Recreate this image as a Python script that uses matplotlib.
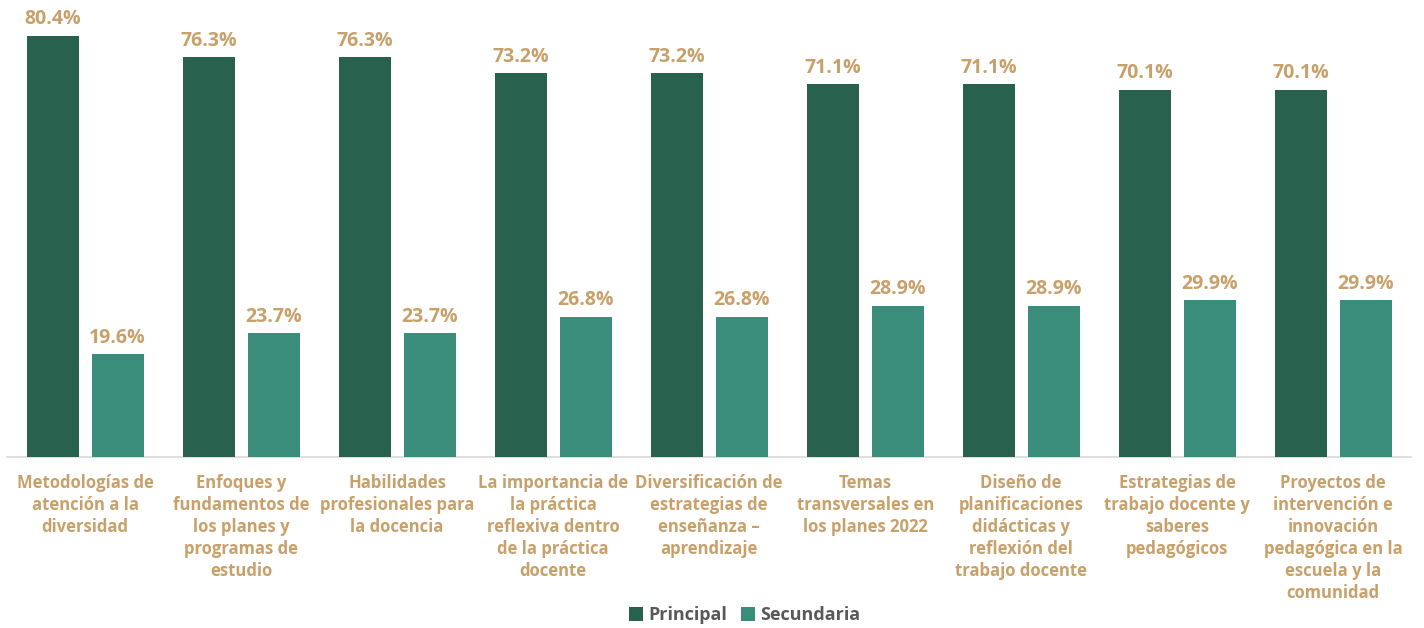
import numpy as np
import matplotlib.pyplot as plt

categorias = [
    "Metodologías de\natención a la\ndiversidad",
    "Enfoques y\nfundamentos de\nlos planes y\nprogramas de\nestudio",
    "Habilidades\nprofesionales para\nla docencia",
    "La importancia de\nla práctica\nreflexiva dentro\nde la práctica\ndocente",
    "Diversificación de\nestrategias de\nenseñanza –\naprendizaje",
    "Temas\ntransversales en\nlos planes 2022",
    "Diseño de\nplanificaciones\ndidácticas y\nreflexión del\ntrabajo docente",
    "Estrategias de\ntrabajo docente y\nsaberes\npedagógicos",
    "Proyectos de\nintervención e\ninnovación\npedagógica en la\nescuela y la\ncomunidad",
]
principal = [80.4, 76.3, 76.3, 73.2, 73.2, 71.1, 71.1, 70.1, 70.1]
secundaria = [19.6, 23.7, 23.7, 26.8, 26.8, 28.9, 28.9, 29.9, 29.9]

c_prin = "#29614F"
c_sec = "#3A8C7B"
c_txt = "#C8A06A"

plt.rcParams['font.family'] = ['Open Sans', 'DejaVu Sans']

fig = plt.figure(figsize=(14.24, 6.28), dpi=100)
ax = fig.add_axes([0.005, 0.272, 0.986, 0.728])

x = np.arange(len(categorias))
w = 0.333
off = 0.208
b1 = ax.bar(x - off, principal, w, color=c_prin, label="Principal", zorder=3)
b2 = ax.bar(x + off, secundaria, w, color=c_sec, label="Secundaria", zorder=3)

for bars, vals in ((b1, principal), (b2, secundaria)):
    for r, v in zip(bars, vals):
        ax.text(r.get_x() + r.get_width() / 2, v + 1.2, f"{v:.1f}%",
                ha="center", va="bottom", color=c_txt, fontsize=14,
                fontweight="bold")

ax.set_xlim(-0.5, len(categorias) - 0.5)
ax.set_ylim(0, 87.2)
ax.set_yticks([])
for s in ["top", "right", "left"]:
    ax.spines[s].set_visible(False)
ax.spines["bottom"].set_color("#D9D9D9")
ax.spines["bottom"].set_linewidth(1.2)

ax.set_xticks(x)
ax.set_xticklabels(categorias, color=c_txt, fontsize=12, fontweight="bold",
                   linespacing=1.29, va="top")
ax.tick_params(axis="x", length=0, pad=12)

leg = fig.legend(handles=[b1, b2], loc="lower center", ncol=2,
                 bbox_to_anchor=(0.523, -0.02), frameon=False,
                 handlelength=0.75, handleheight=0.75, handletextpad=0.3,
                 columnspacing=0.8, prop={"size": 13, "weight": "bold"})
for t in leg.get_texts():
    t.set_color("#595959")

fig.savefig("out.png", dpi=100)
